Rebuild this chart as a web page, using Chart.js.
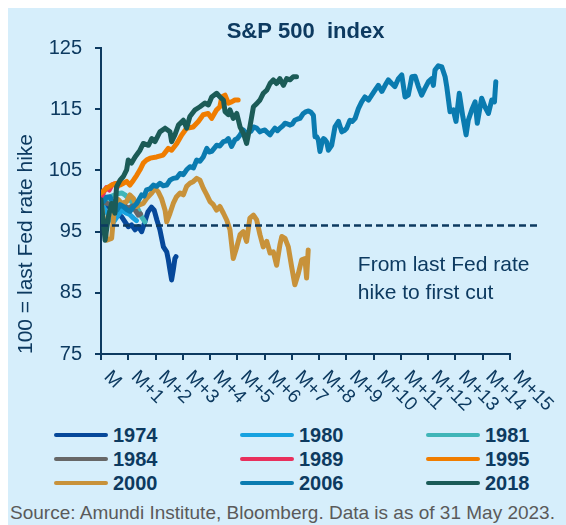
<!DOCTYPE html>
<html>
<head>
<meta charset="utf-8">
<title>S&amp;P 500 index</title>
<script src="https://cdn.jsdelivr.net/npm/chart.js@4.4.1/dist/chart.umd.min.js"></script>
<style>
  body { margin: 0; background: #fff; font-family: "Liberation Sans", Arial, sans-serif; }
  .card { position: absolute; left: 8px; top: 8px; width: 558px; height: 517px; background: #d6eefb; }
  #chart { position: absolute; left: 0; top: 0; }
  .legend { position: absolute; left: 46px; top: 416px; display: grid; grid-template-columns: 186px 186px 186px; row-gap: 2px; }
  .item { display: flex; align-items: center; height: 22px; }
  .swatch { width: 54px; height: 4px; border-radius: 2px; margin-right: 5px; }
  .item span { font-weight: bold; font-size: 20px; color: #0d3a60; }
  .source { position: absolute; left: 2px; top: 494px; font-size: 19px; color: #5a5a5a; white-space: nowrap; }
</style>
</head>
<body>
<div class="card">
  <canvas id="chart" width="558" height="410"></canvas>
  <div class="legend" id="legend"></div>
  <div class="source">Source: Amundi Institute, Bloomberg. Data is as of 31 May 2023.</div>
</div>
<script>
const NAVY = '#0d3a60';
const FONT = '"Liberation Sans", Arial, sans-serif';
const chartTitle = 'S&P 500  index';
const yTitle = '100 = last Fed rate hike';
const note = ['From last Fed rate', 'hike to first cut'];
const xTickLabels = ['M', 'M+1', 'M+2', 'M+3', 'M+4', 'M+5', 'M+6', 'M+7', 'M+8', 'M+9', 'M+10', 'M+11', 'M+12', 'M+13', 'M+14', 'M+15'];
const firstCutLevel = 96;

// months after last hike / index level
const m1974 = [0, 0.15, 0.3, 0.45, 0.6, 0.76, 0.88, 1.0, 1.12, 1.25, 1.37, 1.49, 1.6, 1.72, 1.85, 1.95, 2.05, 2.16, 2.29, 2.41, 2.47, 2.53, 2.59, 2.65, 2.71, 2.75];
const v1974 = [100, 99.5, 99.0, 98.5, 98.0, 97.4, 96.6, 95.8, 96.1, 95.3, 95.8, 95.0, 96.5, 98.2, 99.0, 98.5, 96.9, 95.3, 92.5, 91.7, 90.4, 88.7, 87.1, 88.7, 90.6, 90.9];

const m1980 = [0, 0.15, 0.33, 0.45, 0.6, 0.75, 0.94, 1.05, 1.19, 1.3];
const v1980 = [100, 98.5, 97.4, 96.5, 97.5, 98.5, 98.0, 97.8, 97.2, 96.8];

const m1981 = [0, 0.2, 0.4, 0.6, 0.76, 0.88, 1.06, 1.2, 1.31, 1.49, 1.61];
const v1981 = [100, 100.3, 100.8, 101.2, 101.3, 101.0, 100.2, 99.5, 99.1, 97.4, 96.6];

const m1984 = [0, 0.3, 0.6, 0.85, 1.0, 1.15, 1.37, 1.45];
const v1984 = [100, 99.5, 99.8, 99.3, 98.8, 99.2, 97.7, 97.9];

const m1989 = [0, 0.1, 0.2, 0.3, 0.4, 0.5, 0.6];
const v1989 = [100, 101.5, 102.2, 101.8, 102.6, 102.8, 102.3];

const m1995 = [0, 0.21, 0.39, 0.57, 0.7, 0.82, 0.94, 1.06, 1.19, 1.31, 1.43, 1.55, 1.67, 1.8, 2.04, 2.28, 2.47, 2.59, 2.78, 2.96, 3.14, 3.38, 3.57, 3.75, 3.93, 4.06, 4.24, 4.36, 4.43, 4.55, 4.67, 4.79, 4.91, 5.03];
const v1995 = [101.3, 102.1, 102.6, 102.9, 102.6, 102.9, 103.2, 102.6, 103.4, 104.2, 105.1, 106.2, 106.7, 107.0, 107.2, 107.5, 108.6, 108.3, 109.4, 110.8, 111.9, 112.1, 113.0, 114.1, 114.3, 113.5, 114.9, 115.4, 117.0, 117.3, 116.0, 116.2, 116.5, 116.5];

const m2000 = [0, 0.21, 0.39, 0.45, 0.51, 0.64, 0.76, 0.94, 1.06, 1.19, 1.31, 1.43, 1.55, 1.67, 1.86, 1.98, 2.1, 2.22, 2.35, 2.41, 2.53, 2.65, 2.77, 2.9, 3.02, 3.14, 3.26, 3.39, 3.51, 3.63, 3.75, 3.88, 4.0, 4.12, 4.24, 4.36, 4.49, 4.61, 4.73, 4.85, 4.98, 5.1, 5.22, 5.34, 5.46, 5.59, 5.71, 5.83, 5.95, 6.08, 6.2, 6.32, 6.44, 6.56, 6.63, 6.75, 6.87, 6.99, 7.11, 7.24, 7.36, 7.48, 7.54, 7.6];
const v2000 = [99.6, 93.6, 93.9, 96.9, 99.6, 100.2, 99.6, 99.9, 101.0, 100.4, 99.1, 99.4, 99.6, 100.4, 101.3, 102.1, 101.5, 100.4, 98.5, 96.6, 98.0, 99.6, 100.7, 101.3, 101.0, 102.4, 102.9, 103.2, 103.7, 103.4, 102.1, 101.0, 99.9, 99.4, 98.5, 99.1, 98.0, 96.9, 95.3, 90.6, 92.5, 94.5, 95.0, 93.4, 97.2, 97.7, 96.9, 94.5, 92.5, 93.4, 91.5, 91.7, 89.5, 92.8, 94.2, 93.9, 92.5, 89.3, 86.3, 88.2, 90.4, 90.6, 87.4, 92.0];

const m2006 = [0, 0.09, 0.2, 0.33, 0.45, 0.58, 0.7, 0.82, 0.95, 1.06, 1.18, 1.31, 1.49, 1.58, 1.67, 1.8, 1.92, 2.04, 2.16, 2.28, 2.41, 2.53, 2.65, 2.78, 2.9, 3.02, 3.14, 3.26, 3.39, 3.51, 3.63, 3.75, 3.88, 3.97, 4.06, 4.15, 4.24, 4.36, 4.49, 4.58, 4.67, 4.79, 4.91, 5.0, 5.1, 5.22, 5.31, 5.4, 5.5, 5.59, 5.71, 5.83, 5.92, 6.01, 6.1, 6.2, 6.29, 6.38, 6.47, 6.56, 6.65, 6.75, 6.84, 6.93, 7.02, 7.11, 7.21, 7.3, 7.42, 7.52, 7.61, 7.7, 7.79, 7.85, 7.91, 7.97, 8.03, 8.1, 8.16, 8.22, 8.28, 8.34, 8.46, 8.58, 8.71, 8.83, 8.92, 9.01, 9.13, 9.22, 9.32, 9.44, 9.56, 9.68, 9.81, 9.93, 10.05, 10.17, 10.3, 10.42, 10.54, 10.66, 10.78, 10.91, 11.03, 11.15, 11.27, 11.4, 11.52, 11.64, 11.76, 11.88, 12.01, 12.13, 12.19, 12.25, 12.37, 12.5, 12.62, 12.68, 12.8, 12.92, 13.02, 13.14, 13.27, 13.39, 13.47, 13.6, 13.72, 13.8, 13.96, 14.08, 14.21, 14.33, 14.43, 14.48];
const v2006 = [100, 99.9, 100.6, 100.7, 99.5, 98.5, 99.4, 99.1, 98.6, 98.3, 99.0, 99.6, 101.0, 100.8, 101.8, 102.0, 102.6, 102.4, 102.9, 102.5, 102.6, 103.4, 103.7, 103.8, 104.5, 104.3, 105.1, 105.6, 105.4, 106.7, 106.5, 107.2, 108.6, 108.0, 108.1, 108.6, 109.1, 109.0, 109.7, 109.8, 110.2, 108.9, 110.0, 110.2, 110.8, 111.6, 111.0, 111.3, 111.4, 112.1, 111.9, 111.3, 111.5, 111.6, 111.2, 110.8, 111.4, 111.9, 111.5, 111.9, 112.2, 112.7, 112.6, 112.4, 112.6, 113.2, 113.4, 113.5, 114.3, 114.6, 114.7, 114.5, 114.0, 110.5, 110.5, 110.0, 108.1, 109.5, 110.2, 110.0, 109.6, 108.3, 109.1, 112.1, 113.0, 111.3, 111.5, 111.9, 113.2, 113.0, 113.5, 115.1, 116.2, 117.0, 116.5, 117.3, 118.1, 118.9, 117.9, 118.9, 119.8, 119.2, 118.7, 120.0, 120.6, 117.0, 117.3, 120.3, 120.4, 118.7, 117.3, 118.4, 119.5, 120.0, 118.9, 121.4, 122.1, 121.9, 120.3, 118.7, 114.6, 114.9, 113.0, 117.6, 113.8, 110.8, 113.2, 114.9, 116.2, 112.7, 116.8, 115.4, 114.3, 116.5, 116.2, 119.5];

const m2018 = [0, 0.15, 0.27, 0.39, 0.51, 0.57, 0.7, 0.82, 0.94, 1.0, 1.12, 1.25, 1.43, 1.55, 1.74, 1.86, 1.98, 2.16, 2.35, 2.53, 2.59, 2.71, 2.84, 3.02, 3.14, 3.26, 3.45, 3.63, 3.81, 3.94, 4.06, 4.24, 4.36, 4.49, 4.55, 4.67, 4.73, 4.85, 4.98, 5.1, 5.22, 5.34, 5.46, 5.59, 5.71, 5.83, 5.95, 6.08, 6.2, 6.32, 6.44, 6.56, 6.69, 6.81, 6.93, 7.05, 7.17];
const v2018 = [100.2, 93.6, 97.4, 99.6, 98.0, 102.3, 103.4, 104.0, 105.1, 106.7, 106.2, 107.2, 108.3, 109.4, 109.1, 110.2, 109.7, 111.3, 111.9, 111.3, 109.7, 110.8, 112.4, 113.2, 111.9, 113.8, 114.9, 115.4, 116.0, 115.7, 117.0, 117.6, 117.0, 116.5, 114.6, 114.1, 114.9, 113.5, 114.3, 112.1, 111.1, 109.4, 112.1, 115.4, 115.9, 116.5, 117.6, 118.1, 119.2, 119.8, 119.2, 120.0, 118.9, 120.0, 119.8, 120.3, 120.3];

const seriesNames = ['1974', '1980', '1981', '1984', '1989', '1995', '2000', '2006', '2018'];
const seriesMonths = [m1974, m1980, m1981, m1984, m1989, m1995, m2000, m2006, m2018];
const seriesValues = [v1974, v1980, v1981, v1984, v1989, v1995, v2000, v2006, v2018];
const seriesColors = ['#06489a', '#17a2e0', '#40b5b8', '#676767', '#e8305c', '#f07d00', '#c8923a', '#0a7bb0', '#1b5b57'];

const datasets = seriesNames.map((name, i) => ({
  label: name,
  data: seriesMonths[i].map((m, j) => ({x: m, y: seriesValues[i][j]})),
  borderColor: seriesColors[i],
  borderWidth: 5,
  borderCapStyle: 'round',
  borderJoinStyle: 'round',
  pointRadius: 0,
  tension: 0,
  order: seriesNames.length - i
}));
datasets.push({
  label: 'first cut',
  data: [{x: 0, y: firstCutLevel}, {x: 16, y: firstCutLevel}],
  borderColor: NAVY,
  borderWidth: 2.5,
  borderDash: [7, 4],
  pointRadius: 0,
  clip: false,
  order: -1
});

// legend
const legendEl = document.getElementById('legend');
seriesNames.forEach((name, i) => {
  const item = document.createElement('div');
  item.className = 'item';
  item.innerHTML = '<div class="swatch" style="background:' + seriesColors[i] + '"></div><span>' + name + '</span>';
  legendEl.appendChild(item);
});

const overlay = {
  id: 'overlay',
  afterDraw(chart) {
    const {ctx, chartArea, scales: {x, y}} = chart;
    ctx.save();
    ctx.fillStyle = NAVY;
    ctx.font = 'bold 22px ' + FONT;
    ctx.textAlign = 'center';
    ctx.textBaseline = 'middle';
    ctx.fillText(chartTitle, (chartArea.left + chartArea.right) / 2, 24);

    ctx.font = '19px ' + FONT;
    ctx.textAlign = 'left';
    xTickLabels.forEach((t, i) => {
      ctx.save();
      ctx.translate(x.getPixelForValue(i) + 6, chartArea.bottom + 20);
      ctx.rotate(Math.PI / 4);
      ctx.fillText(t, 0, 0);
      ctx.restore();
    });

    ctx.font = '21px ' + FONT;
    ctx.fillText(note[0], x.getPixelForValue(9.42), y.getPixelForValue(89.5));
    ctx.fillText(note[1], x.getPixelForValue(9.42), y.getPixelForValue(85.0));
    ctx.restore();
  }
};

new Chart(document.getElementById('chart'), {
  type: 'line',
  data: {datasets},
  options: {
    responsive: false,
    animation: false,
    layout: {padding: {top: 40, right: 56, left: 0, bottom: 0}},
    plugins: {legend: {display: false}, tooltip: {enabled: false}},
    scales: {
      x: {
        type: 'linear',
        min: 0,
        max: 15,
        ticks: {display: false, stepSize: 1},
        grid: {drawOnChartArea: false, drawTicks: true, tickLength: 6, color: NAVY, lineWidth: 2},
        border: {color: NAVY, width: 2},
        afterFit(scale) { scale.height = 64; }
      },
      y: {
        min: 75,
        max: 125,
        ticks: {stepSize: 10, color: NAVY, padding: 13, font: {size: 20, family: FONT}},
        grid: {drawOnChartArea: false, drawTicks: true, tickLength: 6, color: NAVY, lineWidth: 2},
        border: {color: NAVY, width: 2},
        title: {display: true, text: yTitle, align: 'start', color: NAVY, padding: {top: 6, bottom: 0}, font: {size: 21, family: FONT}},
        afterFit(scale) { scale.width = 93; }
      }
    }
  },
  plugins: [overlay]
});
</script>
</body>
</html>
